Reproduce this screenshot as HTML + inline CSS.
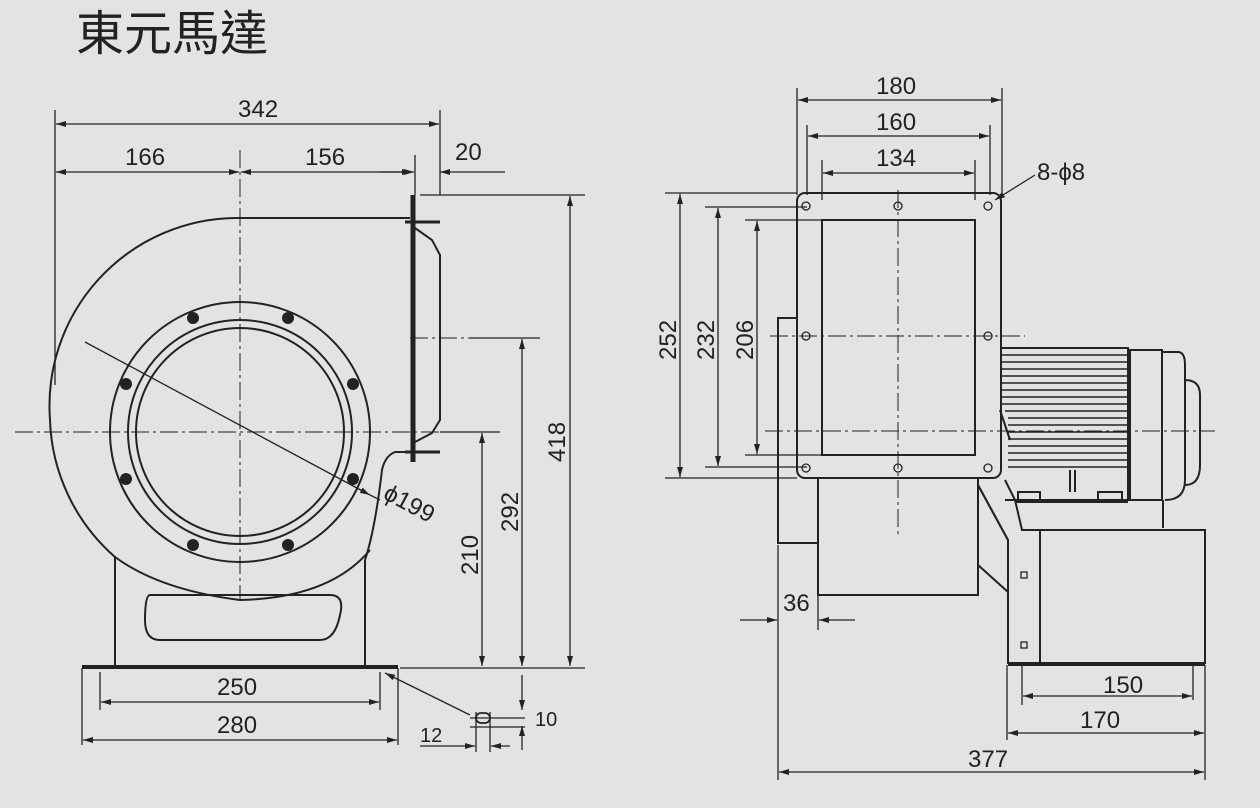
<!DOCTYPE html>
<html><head><meta charset="utf-8"><style>
html,body{margin:0;padding:0;background:#e3e3e3;}
svg{display:block}
text{font-family:"Liberation Sans",sans-serif;fill:#222;font-size:24px}
</style></head><body>
<svg width="1260" height="808" viewBox="0 0 1260 808">
<defs>
<marker id="a" viewBox="0 0 10 6" refX="10" refY="3" markerWidth="14" markerHeight="6" orient="auto-start-reverse" markerUnits="userSpaceOnUse"><path d="M0,0L10,3L0,6z" fill="#222"/></marker>
</defs>
<text x="76" y="50" style="font-family:'Liberation Sans','Noto Sans CJK TC',sans-serif;font-size:48px">東元馬達</text>
<g stroke="#222" fill="none" stroke-width="1.3">
<line x1="55" y1="110" x2="55" y2="385"/>
<line x1="440" y1="110" x2="440" y2="195"/>
<line x1="56" y1="124" x2="439" y2="124" marker-start="url(#a)" marker-end="url(#a)"/>
<line x1="56" y1="172" x2="239" y2="172" marker-start="url(#a)" marker-end="url(#a)"/>
<line x1="241" y1="172" x2="412" y2="172" marker-start="url(#a)" marker-end="url(#a)"/>
<line x1="415" y1="155" x2="415" y2="195"/>
<line x1="440" y1="172" x2="505" y2="172" marker-start="url(#a)"/>
<line x1="380" y1="172" x2="414" y2="172" marker-end="url(#a)"/>
<line x1="420" y1="195" x2="585" y2="195"/>
<line x1="570" y1="196" x2="570" y2="666" marker-start="url(#a)" marker-end="url(#a)"/>
<line x1="470" y1="338" x2="540" y2="338"/>
<line x1="522" y1="339" x2="522" y2="666" marker-start="url(#a)" marker-end="url(#a)"/>
<line x1="440" y1="432" x2="500" y2="432"/>
<line x1="482" y1="433" x2="482" y2="666" marker-start="url(#a)" marker-end="url(#a)"/>
<line x1="400" y1="668" x2="585" y2="668"/>
<line x1="82" y1="668" x2="82" y2="745"/><line x1="398" y1="668" x2="398" y2="745"/>
<line x1="100" y1="672" x2="100" y2="710"/><line x1="380" y1="672" x2="380" y2="710"/>
<line x1="101" y1="702" x2="379" y2="702" marker-start="url(#a)" marker-end="url(#a)"/>
<line x1="83" y1="740" x2="397" y2="740" marker-start="url(#a)" marker-end="url(#a)"/>
<line x1="385" y1="673" x2="470" y2="715" marker-start="url(#a)"/>
<line x1="470" y1="718" x2="525" y2="718"/>
<line x1="522" y1="675" x2="522" y2="710" marker-end="url(#a)"/>
<line x1="522" y1="750" x2="522" y2="726" marker-end="url(#a)"/>
<line x1="470" y1="727" x2="525" y2="727"/>
<line x1="476" y1="712" x2="476" y2="752"/><line x1="490" y1="712" x2="490" y2="752"/>
<line x1="420" y1="746" x2="475" y2="746" marker-end="url(#a)"/>
<line x1="510" y1="746" x2="491" y2="746" marker-end="url(#a)"/>
<rect x="476" y="713" width="14" height="10" rx="5" stroke-width="1.8"/>
<g stroke-width="2">
<path d="M410,218 L235,218 A188,188 0 0 0 50,420 A190,190 0 0 0 115,557 L115,666"/>
<path d="M410,452 L395,452 Q385,456 382,470 Q375,530 365,560 L365,666"/>
<line x1="82" y1="667" x2="398" y2="667" stroke-width="4"/>
<path d="M150,595 L330,595 Q345,595 340,615 Q335,640 320,640 L160,640 Q145,640 145,620 Q145,595 150,595z"/>
<line x1="413" y1="195" x2="413" y2="462" stroke-width="5"/>
<line x1="405" y1="222" x2="440" y2="222" stroke-width="3"/>
<line x1="405" y1="452" x2="440" y2="452" stroke-width="3"/>
<path d="M415,228 L432,240 L440,255 L440,420 L432,433 L415,442"/>
<path d="M115,557 Q160,590 240,600 Q330,598 370,550"/>
<circle cx="240" cy="432" r="130"/>
<circle cx="240" cy="432" r="112"/>
<circle cx="240" cy="432" r="104"/>
</g>
<g fill="#222" stroke="none">
<circle cx="193" cy="318" r="6"/><circle cx="288" cy="318" r="6"/>
<circle cx="353" cy="384" r="6"/><circle cx="353" cy="479" r="6"/>
<circle cx="288" cy="545" r="6"/><circle cx="193" cy="545" r="6"/>
<circle cx="126" cy="479" r="6"/><circle cx="126" cy="384" r="6"/>
</g>
<g stroke-dasharray="18,4,3,4" stroke-width="1">
<line x1="240" y1="150" x2="240" y2="600"/>
<line x1="15" y1="432" x2="460" y2="432"/>
<line x1="410" y1="338" x2="470" y2="338"/>
</g>
<line x1="85" y1="342" x2="370" y2="495" marker-end="url(#a)"/>
<line x1="370" y1="495" x2="380" y2="500"/>

<line x1="797" y1="88" x2="797" y2="195"/><line x1="1002" y1="88" x2="1002" y2="195"/>
<line x1="807" y1="125" x2="807" y2="195"/><line x1="990" y1="125" x2="990" y2="195"/>
<line x1="822" y1="160" x2="822" y2="200"/><line x1="975" y1="160" x2="975" y2="200"/>
<line x1="798" y1="100" x2="1001" y2="100" marker-start="url(#a)" marker-end="url(#a)"/>
<line x1="808" y1="136" x2="989" y2="136" marker-start="url(#a)" marker-end="url(#a)"/>
<line x1="823" y1="173" x2="974" y2="173" marker-start="url(#a)" marker-end="url(#a)"/>
<line x1="1035" y1="175" x2="995" y2="200" marker-end="url(#a)"/>
<line x1="665" y1="193" x2="797" y2="193"/><line x1="665" y1="478" x2="797" y2="478"/>
<line x1="705" y1="207" x2="807" y2="207"/><line x1="705" y1="467" x2="807" y2="467"/>
<line x1="745" y1="220" x2="822" y2="220"/><line x1="745" y1="455" x2="822" y2="455"/>
<line x1="680" y1="194" x2="680" y2="477" marker-start="url(#a)" marker-end="url(#a)"/>
<line x1="718" y1="208" x2="718" y2="466" marker-start="url(#a)" marker-end="url(#a)"/>
<line x1="757" y1="221" x2="757" y2="454" marker-start="url(#a)" marker-end="url(#a)"/>
<line x1="778" y1="545" x2="778" y2="780"/><line x1="818" y1="545" x2="818" y2="630"/>
<line x1="740" y1="620" x2="777" y2="620" marker-end="url(#a)"/>
<line x1="855" y1="620" x2="819" y2="620" marker-end="url(#a)"/>
<line x1="1022" y1="665" x2="1022" y2="705"/><line x1="1007" y1="665" x2="1007" y2="740"/>
<line x1="1205" y1="665" x2="1205" y2="780"/><line x1="1193" y1="665" x2="1193" y2="700"/>
<line x1="1023" y1="696" x2="1192" y2="696" marker-start="url(#a)" marker-end="url(#a)"/>
<line x1="1008" y1="733" x2="1204" y2="733" marker-start="url(#a)" marker-end="url(#a)"/>
<line x1="779" y1="772" x2="1204" y2="772" marker-start="url(#a)" marker-end="url(#a)"/>
<g stroke-width="2">
<rect x="797" y="193" width="204" height="285" rx="8"/>
<rect x="822" y="220" width="153" height="235"/>
<path d="M797,318 L778,318 L778,543 L818,543"/>
<path d="M818,478 L818,595 L978,595 L978,478"/>
<path d="M978,485 L1008,540 L1008,592 L978,565"/>
<path d="M1005,480 L1015,500 L1022,530 L1040,530 L1040,663 L1008,663 L1008,540 L978,485"/>
<path d="M1040,530 L1205,530 L1205,663 L1040,663"/>
<line x1="1008" y1="664" x2="1205" y2="664" stroke-width="4"/>
<path d="M1000,348 L1128,348 L1128,500 L1005,500 M1000,410 L1010,440"/>
<rect x="1130" y="350" width="32" height="150"/>
<path d="M1162,352 L1178,352 Q1185,352 1185,365 L1185,480 Q1185,500 1165,500"/>
<path d="M1185,380 Q1200,380 1200,395 L1200,465 Q1200,485 1185,485"/>
<line x1="1163" y1="500" x2="1163" y2="528"/>
<path d="M1018,500 L1018,492 L1040,492 L1040,500 M1098,500 L1098,492 L1122,492 L1122,500"/>
<line x1="1015" y1="502" x2="1128" y2="502"/>
<line x1="1070" y1="470" x2="1070" y2="492"/><line x1="1075" y1="470" x2="1075" y2="492"/>
</g>
<g stroke-width="1.5">
<line x1="1002" y1="355" x2="1128" y2="355"/><line x1="1002" y1="362" x2="1128" y2="362"/>
<line x1="1002" y1="369" x2="1128" y2="369"/><line x1="1002" y1="376" x2="1128" y2="376"/>
<line x1="1002" y1="383" x2="1128" y2="383"/><line x1="1002" y1="390" x2="1128" y2="390"/>
<line x1="1002" y1="397" x2="1128" y2="397"/><line x1="1002" y1="404" x2="1128" y2="404"/>
<line x1="1005" y1="411" x2="1128" y2="411"/><line x1="1008" y1="418" x2="1128" y2="418"/>
<line x1="1008" y1="425" x2="1128" y2="425"/><line x1="1008" y1="432" x2="1128" y2="432"/>
<line x1="1008" y1="439" x2="1128" y2="439"/><line x1="1008" y1="446" x2="1128" y2="446"/>
<line x1="1008" y1="453" x2="1128" y2="453"/><line x1="1008" y1="460" x2="1128" y2="460"/>
<line x1="1008" y1="467" x2="1128" y2="467"/>
</g>
<g stroke-width="1.3">
<circle cx="806" cy="206" r="4"/><circle cx="898" cy="206" r="4"/><circle cx="988" cy="206" r="4"/>
<circle cx="806" cy="336" r="4"/><circle cx="988" cy="336" r="4"/>
<circle cx="806" cy="468" r="4"/><circle cx="898" cy="468" r="4"/><circle cx="988" cy="468" r="4"/>
<rect x="1021" y="572" width="6" height="6"/><rect x="1021" y="642" width="6" height="6"/>
</g>
<g stroke-dasharray="18,4,3,4" stroke-width="1">
<line x1="898" y1="190" x2="898" y2="535"/>
<line x1="770" y1="336" x2="1025" y2="336"/>
<line x1="765" y1="431" x2="1215" y2="431"/>
</g>
</g>
<text x="238" y="117">342</text>
<text x="125" y="165">166</text>
<text x="305" y="165">156</text>
<text x="455" y="160">20</text>
<text x="217" y="695">250</text>
<text x="217" y="733">280</text>
<text x="420" y="742" style="font-size:20px">12</text>
<text x="535" y="726" style="font-size:20px">10</text>
<text x="0" y="0" transform="translate(565,462) rotate(-90)">418</text>
<text x="0" y="0" transform="translate(518,532) rotate(-90)">292</text>
<text x="0" y="0" transform="translate(478,575) rotate(-90)">210</text>
<text x="0" y="0" transform="translate(382,498) rotate(28)">ϕ199</text>
<text x="876" y="94">180</text>
<text x="876" y="130">160</text>
<text x="876" y="166">134</text>
<text x="1037" y="180">8-ϕ8</text>
<text x="0" y="0" transform="translate(676,360) rotate(-90)">252</text>
<text x="0" y="0" transform="translate(714,360) rotate(-90)">232</text>
<text x="0" y="0" transform="translate(753,360) rotate(-90)">206</text>
<text x="783" y="611">36</text>
<text x="1103" y="693">150</text>
<text x="1080" y="728">170</text>
<text x="968" y="767">377</text>
</svg>
</body></html>
